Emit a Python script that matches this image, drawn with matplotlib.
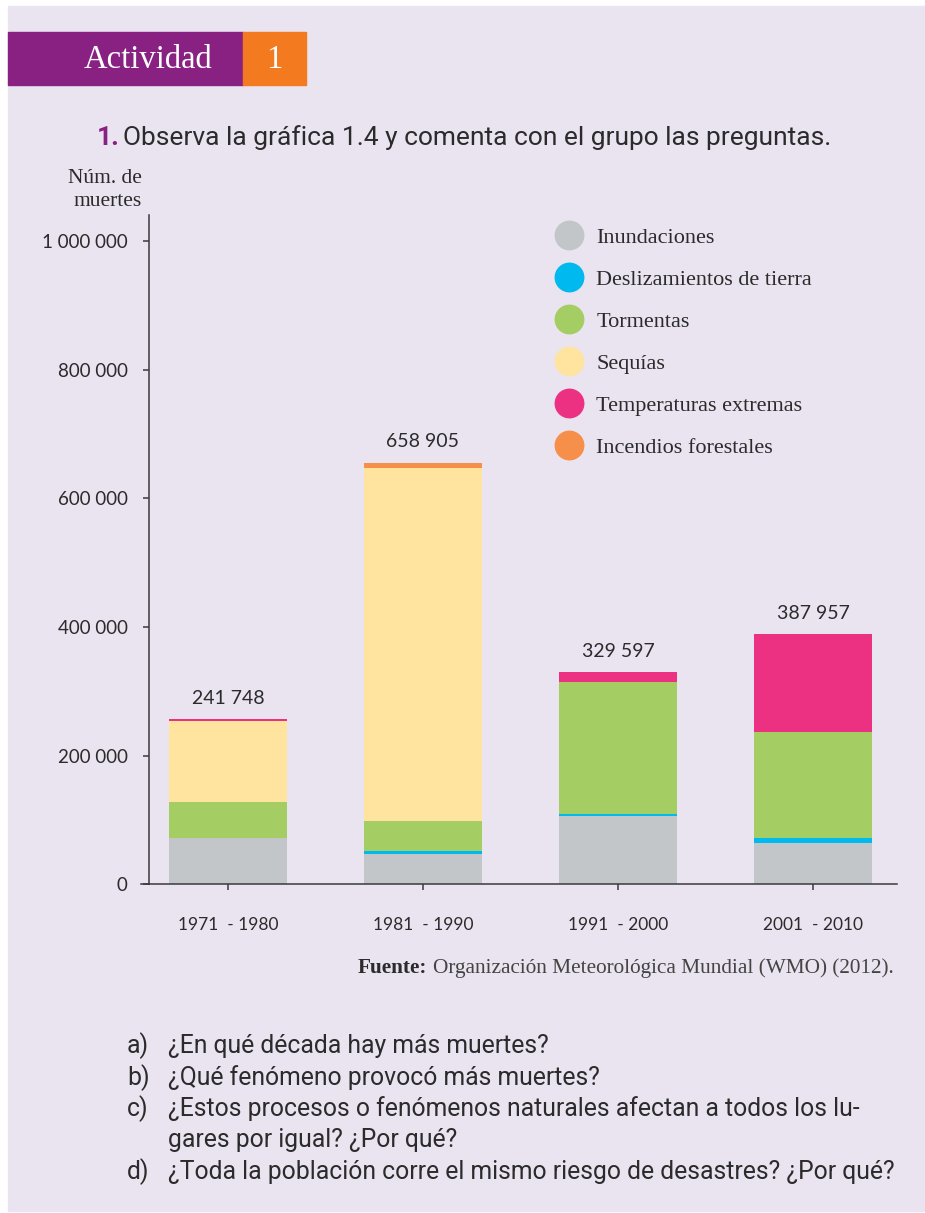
import matplotlib
matplotlib.use("Agg")
import matplotlib.pyplot as plt
from matplotlib import font_manager
from matplotlib.lines import Line2D
from matplotlib.patches import Rectangle

# ---------------------------------------------------------------------------
# datos
# ---------------------------------------------------------------------------
decadas = ["1971  - 1980", "1981  - 1990", "1991  - 2000", "2001  - 2010"]
fenomenos = ["Inundaciones", "Deslizamientos de tierra", "Tormentas",
             "Sequías", "Temperaturas extremas", "Incendios forestales"]
inundaciones = [72400, 47100, 106200, 64200]
deslizamientos = [0, 4700, 3100, 7800]
tormentas = [55500, 46600, 205200, 164800]
sequias = [125900, 549200, 0, 0]
temperaturas = [3100, 0, 15500, 152200]
incendios = [0, 7800, 0, 0]
totales = ["241 748", "658 905", "329 597", "387 957"]
y_ticks = [0, 200000, 400000, 600000, 800000, 1000000]
y_ticklabels = ["0", "200 000", "400 000", "600 000", "800 000", "1 000 000"]

colores = ["#C3C6C9", "#00B9EE", "#A4CE64", "#FEE49F", "#EC3182", "#F58F4A"]
series = [inundaciones, deslizamientos, tormentas, sequias, temperaturas, incendios]

preguntas = [
    ("a)", "¿En qué década hay más muertes?"),
    ("b)", "¿Qué fenómeno provocó más muertes?"),
    ("c)", "¿Estos procesos o fenómenos naturales afectan a todos los lu-"),
    ("", "gares por igual? ¿Por qué?"),
    ("d)", "¿Toda la población corre el mismo riesgo de desastres? ¿Por qué?"),
]

# ---------------------------------------------------------------------------
# fuentes
# ---------------------------------------------------------------------------
instaladas = {f.name for f in font_manager.fontManager.ttflist}
NUM = "Lato" if "Lato" in instaladas else "DejaVu Sans"
SERIF = "Liberation Serif" if "Liberation Serif" in instaladas else "DejaVu Serif"
NARROW = "Liberation Sans Narrow" if "Liberation Sans Narrow" in instaladas else "Roboto"
TXT = "#2b2b2b"
W, H = 925, 1213


def fx(x):
    return x / W


def fy(y):
    return 1 - y / H


fig = plt.figure(figsize=(W / 100, H / 100), dpi=100, facecolor="white")
fig.patches.append(Rectangle((fx(8), fy(1211)), 1, fy(6) - fy(1211),
                             transform=fig.transFigure, color="#EAE3F0", zorder=-10))

# encabezado
fig.patches.append(Rectangle((fx(8), fy(85)), fx(243) - fx(8), fy(32) - fy(85),
                             transform=fig.transFigure, color="#892183"))
fig.patches.append(Rectangle((fx(243), fy(85)), fx(306) - fx(243), fy(32) - fy(85),
                             transform=fig.transFigure, color="#F47A20"))
fig.text(fx(84), fy(60), "Actividad", color="white", fontsize=23.5, family=SERIF,
         ha="left", va="center")
fig.text(fx(274), fy(60), "1", color="white", fontsize=23.5, family=SERIF,
         ha="center", va="center")

fig.text(fx(97), fy(138), "1.", color="#892183", fontsize=19, family=NARROW,
         weight="bold", ha="left", va="center")
fig.text(fx(123), fy(138), "Observa la gráfica 1.4 y comenta con el grupo las preguntas.",
         color=TXT, fontsize=19, family=NARROW, ha="left", va="center")

# ---------------------------------------------------------------------------
# gráfica
# ---------------------------------------------------------------------------
ax = fig.add_axes([fx(149), fy(884.3), fx(897) - fx(149), fy(215) - fy(884.3)])
ax.set_facecolor("none")
x = range(len(decadas))
base = [0] * len(decadas)
for nombre, vals, c in zip(fenomenos, series, colores):
    ax.bar(x, vals, bottom=base, width=0.605, color=c, label=nombre, linewidth=0)
    base = [b + v for b, v in zip(base, vals)]

for i, (tope, txt) in enumerate(zip(base, totales)):
    ax.annotate(txt, (i, tope), xytext=(0, 9), textcoords="offset points",
                ha="center", va="bottom", fontsize=14, family=NUM, color=TXT)

ax.set_xlim(-0.405, 3.431)
ax.set_ylim(0, 1040400)
ax.set_yticks(y_ticks, y_ticklabels, family=NUM, fontsize=13.5, color=TXT)
ax.set_xticks(list(x), decadas, family=NUM, fontsize=12.5, color=TXT)
for s in ["top", "right"]:
    ax.spines[s].set_visible(False)
for s in ["left", "bottom"]:
    ax.spines[s].set_color("#3a3a3a")
    ax.spines[s].set_linewidth(1.1)
ax.tick_params(axis="y", length=4.3, width=1.1, color="#3a3a3a", pad=11)
ax.tick_params(axis="x", length=4.3, width=1.1, color="#3a3a3a", pad=19)
# prolongación del eje x hacia la izquierda
ax.add_line(Line2D([-0.445, -0.405], [0, 0], color="#3a3a3a", lw=1.1, clip_on=False))

fig.text(fx(142), fy(169), "Núm. de\nmuertes", ha="right", va="top", fontsize=15.5,
         family=SERIF, color=TXT, linespacing=1.25)

handles = [Line2D([], [], marker="o", ls="", markersize=21.5, markerfacecolor=c,
                  markeredgewidth=0) for c in colores]
leg = ax.legend(handles, fenomenos, loc="upper left", bbox_to_anchor=(fx(553), fy(227)),
                bbox_transform=fig.transFigure, frameon=False,
                prop={"family": SERIF, "size": 16}, handlelength=1.4,
                handletextpad=0.55, labelspacing=0.97, borderpad=0, borderaxespad=0)
for t in leg.get_texts():
    t.set_color(TXT)

# fuente
fig.text(fx(358), fy(968), "Fuente:", fontsize=15.3, family=SERIF, weight="bold",
         color=TXT, ha="left", va="center")
fig.text(fx(433), fy(968), "Organización Meteorológica Mundial (WMO) (2012).",
         fontsize=15.3, family=SERIF, color="#444444", ha="left", va="center")

# preguntas
for k, (letra, texto) in enumerate(preguntas):
    yy = fy(1046 + 31.5 * k)
    if letra:
        fig.text(fx(127), yy, letra, fontsize=17.8, family=NARROW, color=TXT,
                 ha="left", va="center")
    fig.text(fx(168), yy, texto, fontsize=17.8, family=NARROW, color=TXT,
             ha="left", va="center")

fig.savefig("out.png", dpi=100, facecolor=fig.get_facecolor())
